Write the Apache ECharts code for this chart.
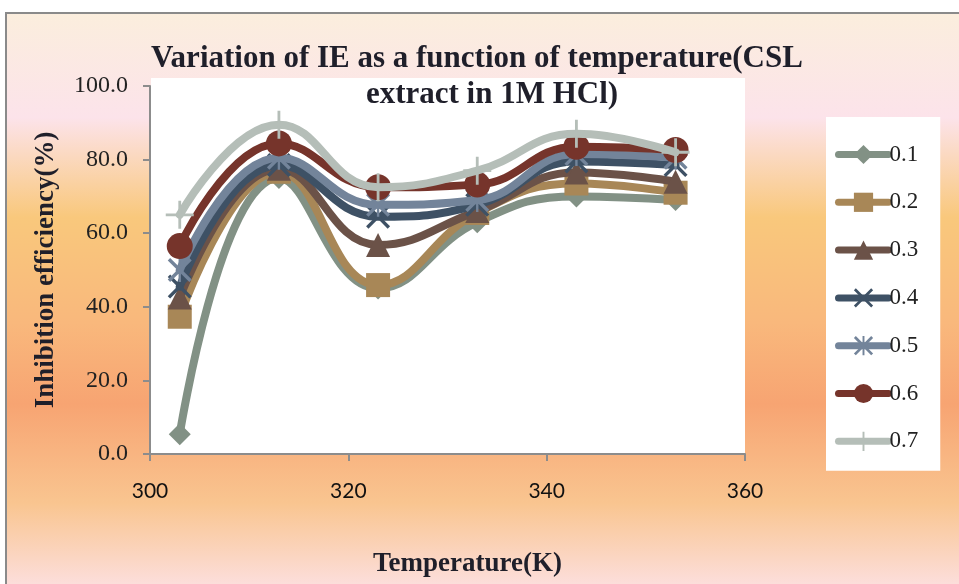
<!DOCTYPE html>
<html>
<head>
<meta charset="utf-8">
<script src="https://cdn.jsdelivr.net/npm/echarts@6/dist/echarts.min.js"></script>
<style>
html,body{margin:0;padding:0;background:#fff;}
#chart{width:959px;height:584px;}
</style>
</head>
<body>
<div id="chart"></div>
<script>
// ---- data ----
const temperatures = [303, 313, 323, 333, 343, 353];
const seriesNames = ['0.1', '0.2', '0.3', '0.4', '0.5', '0.6', '0.7'];
const ie_01 = [5.4, 75.0, 45.0, 63.0, 70.0, 69.0];
const ie_02 = [37.3, 76.7, 45.9, 65.5, 73.5, 71.0];
const ie_03 = [42.5, 77.5, 56.8, 66.0, 76.5, 74.0];
const ie_04 = [45.5, 78.5, 64.5, 67.7, 79.5, 78.5];
const ie_05 = [50.0, 80.5, 67.7, 69.0, 81.5, 80.5];
const ie_06 = [56.5, 84.4, 72.5, 73.2, 83.5, 82.6];
const ie_07 = [65.0, 89.5, 72.5, 77.0, 87.0, 82.0];
const xTicks = [300, 320, 340, 360];
const yTicks = [0, 20, 40, 60, 80, 100];
const titleLines = ['Variation of IE as a function of temperature(CSL', 'extract in 1M HCl)'];

const allValues = [ie_01, ie_02, ie_03, ie_04, ie_05, ie_06, ie_07];

// ---- styles ----
const colors = ['#829185', '#a88757', '#6b5248', '#3e5165', '#73849a', '#76342b', '#b5beb8'];
const X_PATH = 'path://M0,2 L2,0 L10,8 L18,0 L20,2 L12,10 L20,18 L18,20 L10,12 L2,20 L0,18 L8,10 Z';
const AST_PATH = 'path://M0,2 L2,0 L10,8 L18,0 L20,2 L12,10 L20,18 L18,20 L10,12 L2,20 L0,18 L8,10 Z M9,0 L11,0 L11,20 L9,20 Z';
const PLUS_PATH = 'path://M9,0 L11,0 L11,9 L20,9 L20,11 L11,11 L11,20 L9,20 L9,11 L0,11 L0,9 L9,9 Z';
const symbols = ['diamond', 'rect', 'triangle', X_PATH, AST_PATH, 'circle', PLUS_PATH];
const symbolSizes = [22, 24, 24, 24, 24, 26, 28];

const serif = '"Liberation Serif", "DejaVu Serif", serif';

const chart = echarts.init(document.getElementById('chart'), null, {renderer: 'canvas'});

const series = seriesNames.map((name, i) => ({
  name: name,
  type: 'line',
  data: temperatures.map((t, j) => [t, allValues[i][j]]),
  smooth: 0.45,
  symbol: symbols[i],
  symbolSize: symbolSizes[i],
  showAllSymbol: true,
  lineStyle: {color: colors[i], width: 8, cap: 'round', join: 'round'},
  itemStyle: {color: colors[i], borderWidth: 0},
  emphasis: {disabled: true},
  z: 2 + i
}));

const titleStyle = {fontFamily: serif, fontWeight: 'bold', fontSize: 31, color: '#1f1f2a'};

chart.setOption({
  animation: false,
  graphic: [
    {
      type: 'rect', z: -20, silent: true,
      shape: {x: 6, y: 13, width: 1000, height: 620},
      style: {
        fill: new echarts.graphic.LinearGradient(0, 0, 0, 1, [
          {offset: 0.0, color: '#fbeedd'},
          {offset: 0.17, color: '#fce3ea'},
          {offset: 0.33, color: '#f9c87c'},
          {offset: 0.5, color: '#f9b87c'},
          {offset: 0.63, color: '#f7a472'},
          {offset: 0.79, color: '#f9c590'},
          {offset: 0.92, color: '#fcdedb'},
          {offset: 1.0, color: '#fcdedb'}
        ]),
        stroke: '#8a8a8a', lineWidth: 2
      }
    },
    {
      type: 'rect', z: -10, silent: true,
      shape: {x: 151, y: 78, width: 594, height: 376},
      style: {fill: '#ffffff'}
    }
  ],
  title: [
    {text: titleLines[0], left: 477, top: 43, textAlign: 'center', padding: 0, textStyle: titleStyle},
    {text: titleLines[1], left: 492, top: 79, textAlign: 'center', padding: 0, textStyle: titleStyle}
  ],
  legend: {
    orient: 'vertical',
    left: 826,
    top: 117,
    backgroundColor: '#ffffff',
    padding: [26, 22, 18, 9],
    itemWidth: 50,
    itemHeight: 24,
    itemGap: 24.8,
    lineStyle: {width: 7, cap: 'round'},
    textStyle: {fontFamily: serif, fontSize: 23, color: '#222', padding: [0, 0, 0, -4]},
    data: seriesNames
  },
  grid: {left: 150, right: 214, top: 86, bottom: 130, containLabel: false},
  xAxis: {
    type: 'value',
    min: xTicks[0],
    max: xTicks[xTicks.length - 1],
    interval: xTicks[1] - xTicks[0],
    name: 'Temperature(K)',
    nameLocation: 'middle',
    nameGap: 97,
    nameTextStyle: {fontFamily: serif, fontWeight: 'bold', fontSize: 27, color: '#1f1f2a', padding: [0, 0, 0, 40]},
    axisLine: {show: true, lineStyle: {color: '#8c8c8c', width: 2}},
    axisTick: {show: true, length: 7, lineStyle: {color: '#8c8c8c', width: 2}},
    splitLine: {show: false},
    axisLabel: {fontFamily: 'Lato, "Open Sans", sans-serif', fontSize: 21, color: '#111', margin: 27}
  },
  yAxis: {
    type: 'value',
    min: yTicks[0],
    max: yTicks[yTicks.length - 1],
    interval: yTicks[1] - yTicks[0],
    name: 'Inhibition efficiency(%)',
    nameLocation: 'middle',
    nameGap: 90,
    nameTextStyle: {fontFamily: serif, fontWeight: 'bold', fontSize: 27, color: '#1f1f2a'},
    axisLine: {show: true, lineStyle: {color: '#8c8c8c', width: 2}},
    axisTick: {show: true, length: 7, lineStyle: {color: '#8c8c8c', width: 2}},
    splitLine: {show: false},
    axisLabel: {fontFamily: serif, fontSize: 24, color: '#222', margin: 22, formatter: v => v.toFixed(1)}
  },
  series: series
});
</script>
</body>
</html>
